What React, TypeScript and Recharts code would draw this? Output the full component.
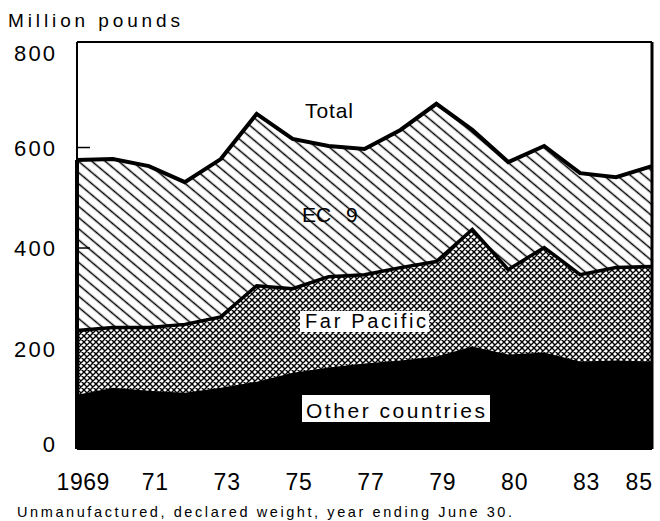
import { AreaChart, Area, XAxis, YAxis, ReferenceLine } from 'recharts';

// Tobacco exports by destination, million pounds, 1969-85
const YEARS = [1969, 1970, 1971, 1972, 1973, 1974, 1975, 1976, 1977, 1978, 1979, 1980, 1981, 1982, 1983, 1984, 1985];
const OTHER = [108, 122, 116, 112, 122, 134, 152, 162, 170, 176, 184, 204, 188, 192, 174, 176, 174];
const FAR_PACIFIC = [128, 120, 126, 136, 141, 191, 167, 181, 177, 185, 189, 233, 169, 209, 173, 185, 189];
const EC9 = [339, 335, 321, 283, 314, 342, 298, 260, 250, 274, 314, 198, 214, 202, 202, 180, 200];

const X_TICKS = [1969, 1971, 1973, 1975, 1977, 1979, 1981, 1983, 1985];
const X_LABELS = ['1969', '71', '73', '75', '77', '79', '80', '83', '85'];
const Y_TICKS = [0, 200, 400, 600, 800];
const INNER_TICKS = [400, 600];
const Y_MAX = 810;

const FONT = '"Liberation Sans", Arial, sans-serif';

const data = YEARS.map((year, i) => ({
  year,
  other: OTHER[i],
  farPacific: FAR_PACIFIC[i],
  ec9: EC9[i],
}));

const firstTotal = OTHER[0] + FAR_PACIFIC[0] + EC9[0];

// eslint-disable-next-line @typescript-eslint/no-explicit-any
function XTick({ x, y, payload, index }: any) {
  const label = X_LABELS[index] ?? String(payload.value);
  const last = index === X_TICKS.length - 1;
  return (
    <text
      x={last ? x + 8 : x + 6}
      y={y + 41}
      textAnchor={last ? 'end' : 'middle'}
      fontFamily={FONT}
      fontSize={23}
      fill="#000"
      textLength={label.length * 13.2}
      lengthAdjust="spacing"
    >
      {label}
    </text>
  );
}

// eslint-disable-next-line @typescript-eslint/no-explicit-any
function YTick({ x, y, payload }: any) {
  const label = String(payload.value);
  // the printed 0 and 800 sit a little inside the frame
  const nudge = payload.value === 0 ? -5 : payload.value === 800 ? 6 : 0;
  return (
    <g>
      <text
        x={x - 22}
        y={y + 8 + nudge}
        textAnchor="end"
        fontFamily={FONT}
        fontSize={22}
        fill="#000"
        textLength={label.length > 1 ? 41 : undefined}
        lengthAdjust="spacing"
      >
        {label}
      </text>
      {INNER_TICKS.includes(payload.value) && (
        <line x1={x} x2={x + 13} y1={y} y2={y} stroke="#000" strokeWidth={1.5} />
      )}
    </g>
  );
}

export default function App() {
  return (
    <div style={{ position: 'absolute', left: 0, top: 0, width: 660, height: 521, background: '#fff' }}>
      <AreaChart width={660} height={521} data={data} margin={{ top: 42, right: 8, bottom: 32, left: 0 }}>
        <defs>
          <pattern id="diag" patternUnits="userSpaceOnUse" width={10} height={8.6} patternTransform="rotate(40)">
            <line x1={0} y1={4.3} x2={10} y2={4.3} stroke="#000" strokeWidth={1.5} />
          </pattern>
          <pattern id="xhatch" patternUnits="userSpaceOnUse" width={6} height={6}>
            <rect width={6} height={6} fill="#fff" />
            <path d="M0,0 L6,6 M6,0 L0,6 M-1,5 L1,7 M5,-1 L7,1 M-1,1 L1,-1 M5,7 L7,5" stroke="#000" strokeWidth={1.4} />
          </pattern>
        </defs>
        <XAxis
          dataKey="year"
          type="number"
          domain={[1969, 1985]}
          ticks={X_TICKS}
          height={40}
          tickSize={0}
          tickMargin={0}
          tickLine={false}
          tick={<XTick />}
          axisLine={{ stroke: '#000', strokeWidth: 2 }}
        />
        <YAxis
          type="number"
          domain={[0, Y_MAX]}
          ticks={Y_TICKS}
          width={77}
          tickSize={0}
          tickMargin={0}
          tickLine={false}
          tick={<YTick />}
          axisLine={{ stroke: '#000', strokeWidth: 2 }}
        />
        <Area
          type="linear"
          dataKey="other"
          stackId="a"
          fill="#000"
          fillOpacity={1}
          stroke="#000"
          strokeWidth={1}
          dot={false}
          activeDot={false}
          isAnimationActive={false}
        />
        <Area
          type="linear"
          dataKey="farPacific"
          stackId="a"
          fill="url(#xhatch)"
          fillOpacity={1}
          stroke="#000"
          strokeWidth={3.5}
          dot={false}
          activeDot={false}
          isAnimationActive={false}
        />
        <Area
          type="linear"
          dataKey="ec9"
          stackId="a"
          fill="url(#diag)"
          fillOpacity={1}
          stroke="#000"
          strokeWidth={4}
          dot={false}
          activeDot={false}
          isAnimationActive={false}
        />
        {/* frame: top, right and the heavy left edge of the filled band */}
        <ReferenceLine y={Y_MAX} stroke="#000" strokeWidth={2} />
        <ReferenceLine x={YEARS[YEARS.length - 1]} stroke="#000" strokeWidth={3} />
        <ReferenceLine
          segment={[
            { x: YEARS[0], y: 0 },
            { x: YEARS[0], y: firstTotal },
          ]}
          stroke="#000"
          strokeWidth={4}
        />
      </AreaChart>

      {/* Titles, notes and in-plot labels */}
      <svg
        width={660}
        height={521}
        style={{ position: 'absolute', left: 0, top: 0, pointerEvents: 'none' }}
        fontFamily={FONT}
        fill="#000"
      >
        <text x={8} y={27} fontSize={19} textLength={172} lengthAdjust="spacing">
          Million pounds
        </text>
        <text x={305} y={118} fontSize={21} textLength={48} lengthAdjust="spacing">
          Total
        </text>
        <text y={222} fontSize={21}>
          <tspan x={302}>EC </tspan>
          <tspan x={346}>9</tspan>
        </text>
        <rect x={300} y={311} width={129} height={21} fill="#fff" />
        <text x={305} y={328} fontSize={20} textLength={121} lengthAdjust="spacing">
          Far Pacific
        </text>
        <rect x={302} y={395} width={188} height={27} fill="#fff" />
        <text x={306} y={418} fontSize={21} textLength={179} lengthAdjust="spacing">
          Other countries
        </text>
        <text x={17} y={517} fontSize={14.5} textLength={495} lengthAdjust="spacing">
          Unmanufactured, declared weight, year ending June 30.
        </text>
      </svg>
    </div>
  );
}
